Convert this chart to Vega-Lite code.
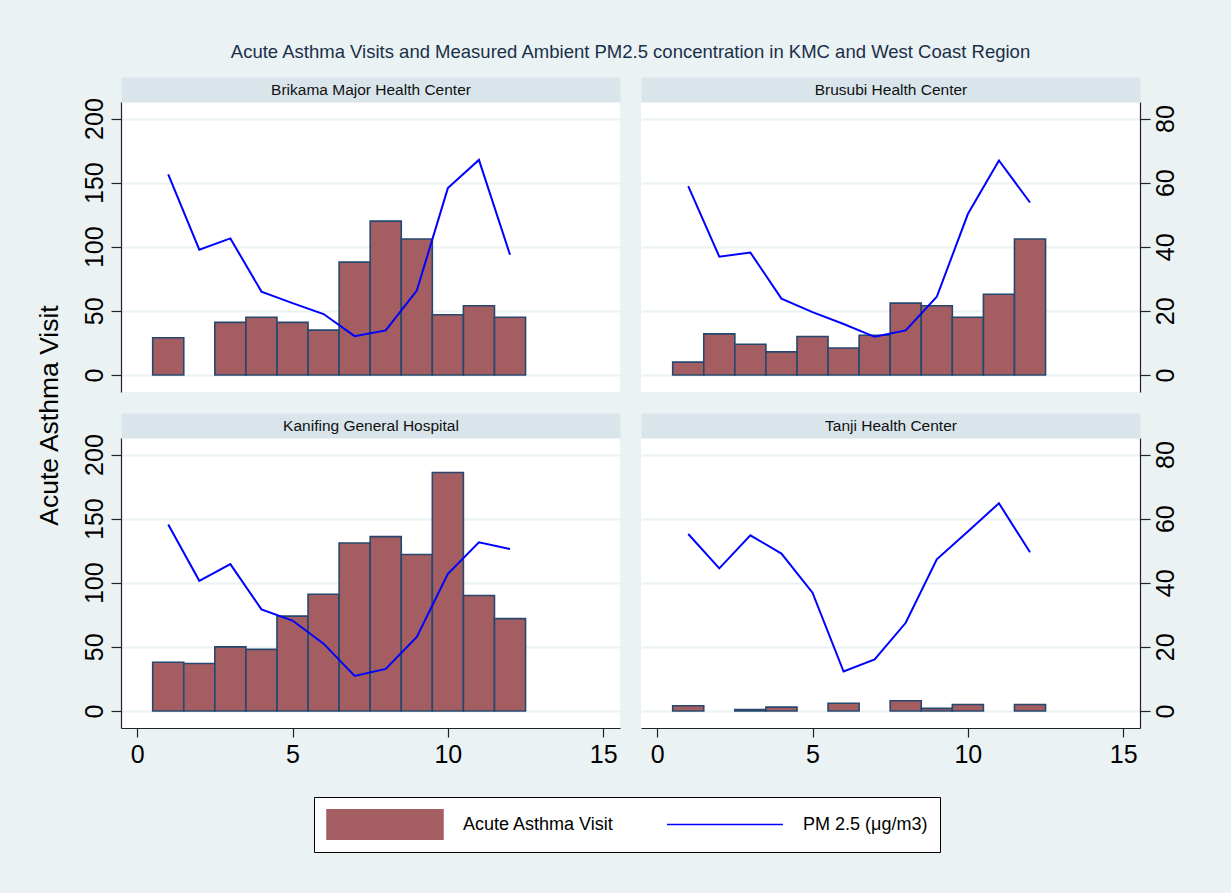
{
  "$schema": "https://vega.github.io/schema/vega-lite/v6.json",
  "background": "#eaf2f3",
  "autosize": {"type": "pad"},
  "padding": {"left": 36, "top": 43, "right": 53, "bottom": 40},
  "title": {"text": "Acute Asthma Visits and Measured Ambient PM2.5 concentration in KMC and West Coast Region", "anchor": "middle", "frame": "group", "dx": 509.5, "fontSize": 18.5, "fontWeight": "normal", "color": "#1a2f49", "offset": 21},
  "datasets": {
    "main": [
      {"center": "Brikama", "month": 1, "visits": 29, "pm": 62.6},
      {"center": "Brikama", "month": 2, "visits": null, "pm": 39.1},
      {"center": "Brikama", "month": 3, "visits": 41, "pm": 42.6},
      {"center": "Brikama", "month": 4, "visits": 45, "pm": 26.0},
      {"center": "Brikama", "month": 5, "visits": 41, "pm": 22.4},
      {"center": "Brikama", "month": 6, "visits": 35, "pm": 19.0},
      {"center": "Brikama", "month": 7, "visits": 88, "pm": 12.1},
      {"center": "Brikama", "month": 8, "visits": 120, "pm": 13.9},
      {"center": "Brikama", "month": 9, "visits": 106, "pm": 26.3},
      {"center": "Brikama", "month": 10, "visits": 47, "pm": 58.3},
      {"center": "Brikama", "month": 11, "visits": 54, "pm": 67.1},
      {"center": "Brikama", "month": 12, "visits": 45, "pm": 37.5},
      {"center": "Brusubi", "month": 1, "visits": 10, "pm": 58.9},
      {"center": "Brusubi", "month": 2, "visits": 32, "pm": 36.9},
      {"center": "Brusubi", "month": 3, "visits": 24, "pm": 38.2},
      {"center": "Brusubi", "month": 4, "visits": 18, "pm": 23.8},
      {"center": "Brusubi", "month": 5, "visits": 30, "pm": 19.6},
      {"center": "Brusubi", "month": 6, "visits": 21, "pm": 15.9},
      {"center": "Brusubi", "month": 7, "visits": 31, "pm": 11.9},
      {"center": "Brusubi", "month": 8, "visits": 56, "pm": 13.9},
      {"center": "Brusubi", "month": 9, "visits": 54, "pm": 24.4},
      {"center": "Brusubi", "month": 10, "visits": 45, "pm": 50.2},
      {"center": "Brusubi", "month": 11, "visits": 63, "pm": 66.9},
      {"center": "Brusubi", "month": 12, "visits": 106, "pm": 53.8},
      {"center": "Kanifing", "month": 1, "visits": 38, "pm": 58.2},
      {"center": "Kanifing", "month": 2, "visits": 37, "pm": 40.6},
      {"center": "Kanifing", "month": 3, "visits": 50, "pm": 45.8},
      {"center": "Kanifing", "month": 4, "visits": 48, "pm": 31.7},
      {"center": "Kanifing", "month": 5, "visits": 74, "pm": 28.2},
      {"center": "Kanifing", "month": 6, "visits": 91, "pm": 21.0},
      {"center": "Kanifing", "month": 7, "visits": 131, "pm": 10.9},
      {"center": "Kanifing", "month": 8, "visits": 136, "pm": 13.1},
      {"center": "Kanifing", "month": 9, "visits": 122, "pm": 23.1},
      {"center": "Kanifing", "month": 10, "visits": 186, "pm": 42.8},
      {"center": "Kanifing", "month": 11, "visits": 90, "pm": 52.6},
      {"center": "Kanifing", "month": 12, "visits": 72, "pm": 50.5},
      {"center": "Tanji", "month": 1, "visits": 4, "pm": 55.2},
      {"center": "Tanji", "month": 2, "visits": null, "pm": 44.5},
      {"center": "Tanji", "month": 3, "visits": 1, "pm": 54.8},
      {"center": "Tanji", "month": 4, "visits": 3, "pm": 49.1},
      {"center": "Tanji", "month": 5, "visits": null, "pm": 36.9},
      {"center": "Tanji", "month": 6, "visits": 6, "pm": 12.3},
      {"center": "Tanji", "month": 7, "visits": null, "pm": 16.1},
      {"center": "Tanji", "month": 8, "visits": 8, "pm": 27.5},
      {"center": "Tanji", "month": 9, "visits": 2, "pm": 47.3},
      {"center": "Tanji", "month": 10, "visits": 5, "pm": 56.0},
      {"center": "Tanji", "month": 11, "visits": null, "pm": 64.8},
      {"center": "Tanji", "month": 12, "visits": 5, "pm": 49.5}
    ]
  },
  "columns": 2,
  "spacing": {"row": 46, "column": 21},
  "bounds": "flush",
  "concat": [
    {
      "width": 499, "height": 290, "view": {"fill": "white", "stroke": null},
      "data": {"name": "main"},
      "transform": [{"filter": "datum.center === 'Brikama'"}],
      "layer": [
        {
          "mark": {"type": "bar", "width": 31.07, "color": "#a45d60", "stroke": "#26486e", "strokeWidth": 1.6},
          "encoding": {
            "x": {"field": "month", "type": "quantitative", "scale": {"domain": [-0.52, 15.54], "nice": false, "zero": false, "padding": 0}, "axis": null},
            "y": {"field": "visits", "type": "quantitative", "scale": {"domain": [-13.3, 212.9], "nice": false, "zero": false},
              "axis": {"orient": "left", "values": [0, 50, 100, 150, 200], "grid": true, "labelAngle": 270, "title": "Acute Asthma Visit", "titleAngle": 270, "titleFontSize": 26.5, "titleFontWeight": "normal", "titleColor": "#000", "titleX": -72, "titleY": 313, "titleBaseline": "middle", "titleAlign": "center"}}
          }
        },
        {
          "mark": {"type": "line", "color": "#0000ff", "strokeWidth": 2},
          "encoding": {
            "x": {"field": "month", "type": "quantitative", "scale": {"domain": [-0.52, 15.54], "nice": false, "zero": false, "padding": 0},
              "axis": {"orient": "top", "domainColor": "#d9e5eb", "domainWidth": 25, "offset": 12.5, "ticks": false, "labels": false, "grid": false, "title": "Brikama Major Health Center", "titleX": 249.5, "titleY": 0, "titleBaseline": "middle", "titleAlign": "center", "titleAngle": 0, "titleFontSize": 15.5, "titleFontWeight": "normal", "titleColor": "#111"}},
            "y": {"field": "pm", "type": "quantitative", "scale": {"domain": [-5.32, 85.16], "nice": false, "zero": false}, "axis": null}
          }
        }
      ],
      "resolve": {"scale": {"y": "independent", "x": "independent"}}
    },
    {
      "width": 499, "height": 290, "view": {"fill": "white", "stroke": null},
      "data": {"name": "main"},
      "transform": [{"filter": "datum.center === 'Brusubi'"}],
      "layer": [
        {
          "mark": {"type": "bar", "width": 31.07, "color": "#a45d60", "stroke": "#26486e", "strokeWidth": 1.6},
          "encoding": {
            "x": {"field": "month", "type": "quantitative", "scale": {"domain": [-0.52, 15.54], "nice": false, "zero": false, "padding": 0}, "axis": null},
            "y": {"field": "visits", "type": "quantitative", "scale": {"domain": [-13.3, 212.9], "nice": false, "zero": false},
              "axis": {"orient": "left", "values": [0, 50, 100, 150, 200], "grid": true, "domain": false, "ticks": false, "labels": false, "title": null}}
          }
        },
        {
          "mark": {"type": "line", "color": "#0000ff", "strokeWidth": 2},
          "encoding": {
            "x": {"field": "month", "type": "quantitative", "scale": {"domain": [-0.52, 15.54], "nice": false, "zero": false, "padding": 0},
              "axis": {"orient": "top", "domainColor": "#d9e5eb", "domainWidth": 25, "offset": 12.5, "ticks": false, "labels": false, "grid": false, "title": "Brusubi Health Center", "titleX": 249.5, "titleY": 0, "titleBaseline": "middle", "titleAlign": "center", "titleAngle": 0, "titleFontSize": 15.5, "titleFontWeight": "normal", "titleColor": "#111"}},
            "y": {"field": "pm", "type": "quantitative", "scale": {"domain": [-5.32, 85.16], "nice": false, "zero": false},
              "axis": {"orient": "right", "values": [0, 20, 40, 60, 80], "grid": false, "labelAngle": 270, "labelPadding": 3, "title": null}}
          }
        }
      ],
      "resolve": {"scale": {"y": "independent", "x": "independent"}}
    },
    {
      "width": 499, "height": 290, "view": {"fill": "white", "stroke": null},
      "data": {"name": "main"},
      "transform": [{"filter": "datum.center === 'Kanifing'"}],
      "layer": [
        {
          "mark": {"type": "bar", "width": 31.07, "stroke": "#26486e", "strokeWidth": 1.6},
          "encoding": {
            "x": {"field": "month", "type": "quantitative", "scale": {"domain": [-0.52, 15.54], "nice": false, "zero": false, "padding": 0},
              "axis": {"values": [0, 5, 10, 15], "grid": false, "title": null, "labelAngle": 0, "tickSize": 9, "labelPadding": 5}},
            "y": {"field": "visits", "type": "quantitative", "scale": {"domain": [-13.3, 212.9], "nice": false, "zero": false},
              "axis": {"orient": "left", "values": [0, 50, 100, 150, 200], "grid": true, "labelAngle": 270, "title": null}},
            "color": {"datum": "Acute Asthma Visit", "type": "nominal",
              "scale": {"domain": ["Acute Asthma Visit", "PM 2.5 (μg/m3)"], "range": ["#a45d60", "#0000ff"]},
              "legend": {
                "orient": "none", "legendX": 193, "legendY": 695, "direction": "horizontal", "columns": 2, "title": null,
                "symbolSize": 13456, "clipHeight": 31, "labelFontSize": 18, "labelColor": "#000", "labelOffset": 19, "columnPadding": 52,
                "padding": 12, "fillColor": "white", "strokeColor": "#000", "labelLimit": 400,
                "symbolType": {"expr": "datum.value === 'Acute Asthma Visit' ? 'M-1,-0.267H1V0.267H-1Z' : 'M-1,0H1'"},
                "encode": {
                  "symbols": {
                    "shape": {"value": {"expr": "datum.value === 'Acute Asthma Visit' ? 'M-1,-0.267H1V0.267H-1Z' : 'M-1,0H1'"}},
                    "fill": {"value": {"expr": "datum.value === 'Acute Asthma Visit' ? '#a45d60' : 'transparent'"}},
                    "stroke": {"value": {"expr": "datum.value === 'Acute Asthma Visit' ? '#26486e' : '#0000ff'"}},
                    "strokeWidth": {"value": {"expr": "datum.value === 'Acute Asthma Visit' ? 1.6 : 2.5"}},
                    "opacity": {"value": 1}
                  }
                }
              }
            }
          }
        },
        {
          "mark": {"type": "line", "strokeWidth": 2},
          "encoding": {
            "x": {"field": "month", "type": "quantitative", "scale": {"domain": [-0.52, 15.54], "nice": false, "zero": false, "padding": 0},
              "axis": {"orient": "top", "domainColor": "#d9e5eb", "domainWidth": 25, "offset": 12.5, "ticks": false, "labels": false, "grid": false, "title": "Kanifing General Hospital", "titleX": 249.5, "titleY": 0, "titleBaseline": "middle", "titleAlign": "center", "titleAngle": 0, "titleFontSize": 15.5, "titleFontWeight": "normal", "titleColor": "#111"}},
            "y": {"field": "pm", "type": "quantitative", "scale": {"domain": [-5.32, 85.16], "nice": false, "zero": false}, "axis": null},
            "color": {"datum": "PM 2.5 (μg/m3)", "type": "nominal"}
          }
        }
      ],
      "resolve": {"scale": {"y": "independent", "x": "independent"}}
    },
    {
      "width": 499, "height": 290, "view": {"fill": "white", "stroke": null},
      "data": {"name": "main"},
      "transform": [{"filter": "datum.center === 'Tanji'"}],
      "layer": [
        {
          "mark": {"type": "bar", "width": 31.07, "color": "#a45d60", "stroke": "#26486e", "strokeWidth": 1.6},
          "encoding": {
            "x": {"field": "month", "type": "quantitative", "scale": {"domain": [-0.52, 15.54], "nice": false, "zero": false, "padding": 0},
              "axis": {"values": [0, 5, 10, 15], "grid": false, "title": null, "labelAngle": 0, "tickSize": 9, "labelPadding": 5}},
            "y": {"field": "visits", "type": "quantitative", "scale": {"domain": [-13.3, 212.9], "nice": false, "zero": false},
              "axis": {"orient": "left", "values": [0, 50, 100, 150, 200], "grid": true, "domain": false, "ticks": false, "labels": false, "title": null}}
          }
        },
        {
          "mark": {"type": "line", "color": "#0000ff", "strokeWidth": 2},
          "encoding": {
            "x": {"field": "month", "type": "quantitative", "scale": {"domain": [-0.52, 15.54], "nice": false, "zero": false, "padding": 0},
              "axis": {"orient": "top", "domainColor": "#d9e5eb", "domainWidth": 25, "offset": 12.5, "ticks": false, "labels": false, "grid": false, "title": "Tanji Health Center", "titleX": 249.5, "titleY": 0, "titleBaseline": "middle", "titleAlign": "center", "titleAngle": 0, "titleFontSize": 15.5, "titleFontWeight": "normal", "titleColor": "#111"}},
            "y": {"field": "pm", "type": "quantitative", "scale": {"domain": [-5.32, 85.16], "nice": false, "zero": false},
              "axis": {"orient": "right", "values": [0, 20, 40, 60, 80], "grid": false, "labelAngle": 270, "labelPadding": 3, "title": null}}
          }
        }
      ],
      "resolve": {"scale": {"y": "independent", "x": "independent"}}
    }
  ],
  "config": {
    "font": "Liberation Sans",
    "view": {"stroke": null},
    "axis": {
      "domainColor": "#222", "domainWidth": 1.2, "tickColor": "#222", "tickWidth": 1.2, "tickSize": 10,
      "labelFontSize": 25, "labelColor": "#000", "labelPadding": 4,
      "gridColor": "#eaf2f3", "gridWidth": 2
    }
  }
}
